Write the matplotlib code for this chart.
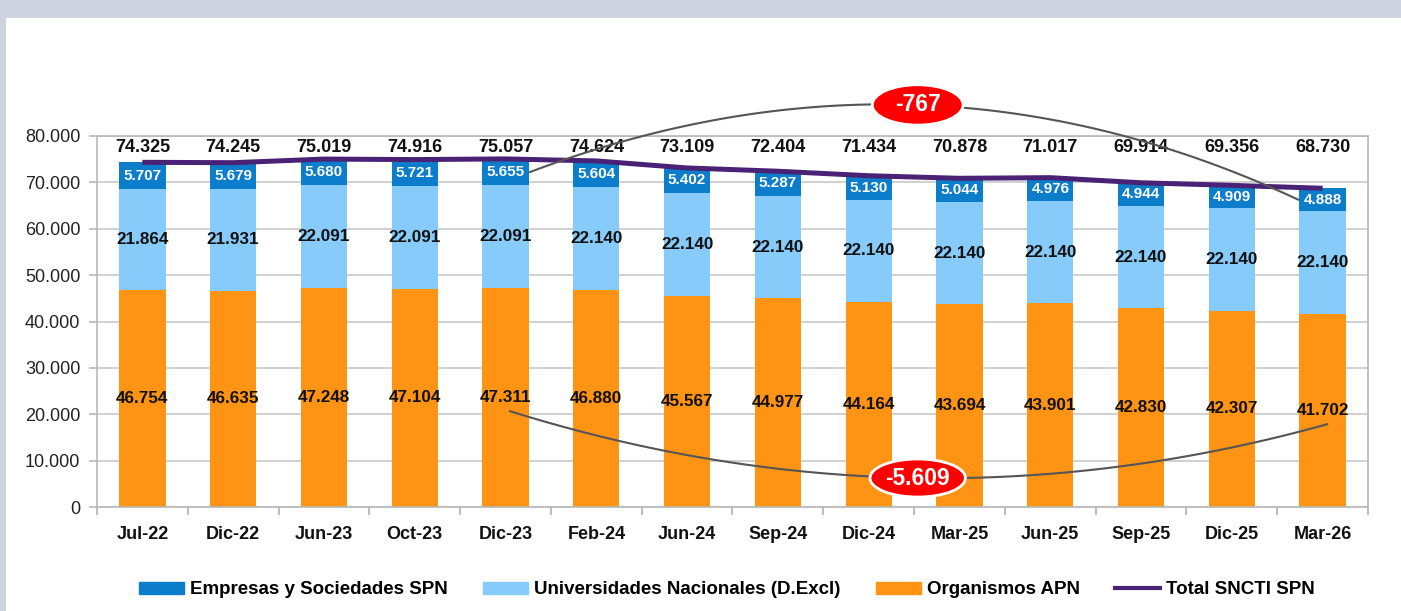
import numpy as np
import matplotlib.pyplot as plt
from matplotlib.patches import Ellipse, Rectangle, Patch
from matplotlib.lines import Line2D

# Data
periods = ['Jul-22', 'Dic-22', 'Jun-23', 'Oct-23', 'Dic-23', 'Feb-24', 'Jun-24',
           'Sep-24', 'Dic-24', 'Mar-25', 'Jun-25', 'Sep-25', 'Dic-25', 'Mar-26']
organismos = [46754, 46635, 47248, 47104, 47311, 46880, 45567,
              44977, 44164, 43694, 43901, 42830, 42307, 41702]
universidades = [21864, 21931, 22091, 22091, 22091, 22140, 22140,
                 22140, 22140, 22140, 22140, 22140, 22140, 22140]
empresas = [5707, 5679, 5680, 5721, 5655, 5604, 5402,
            5287, 5130, 5044, 4976, 4944, 4909, 4888]
total = [74325, 74245, 75019, 74916, 75057, 74624, 73109,
         72404, 71434, 70878, 71017, 69914, 69356, 68730]
diff_total = -767
diff_org = -5609

C_EMP = '#0C7DCA'
C_UNI = '#87CBFA'
C_ORG = '#FF9414'
C_TOT = '#4A2275'

BOLD = ['Liberation Sans', 'DejaVu Sans']
NARROW = ['Liberation Sans Narrow', 'Liberation Sans', 'DejaVu Sans']


def fmt(v):
    return f"{v:,}".replace(",", ".")


fig = plt.figure(figsize=(14.01, 6.11), dpi=100)
fig.patch.set_facecolor('#CED3DF')
fig.add_artist(Rectangle((6 / 1401, 0), 1, 1 - 18 / 611, transform=fig.transFigure,
                         facecolor='white', edgecolor='none', zorder=0))

ax = fig.add_axes([97 / 1401, 1 - 507 / 611, (1368 - 97) / 1401, (507 - 136) / 611])
ax.set_facecolor('white')

x = np.arange(len(periods))
org = np.array(organismos)
uni = np.array(universidades)
emp = np.array(empresas)

w = 0.51
ax.bar(x, org, width=w, color=C_ORG, zorder=2)
ax.bar(x, uni, width=w, bottom=org, color=C_UNI, zorder=2)
ax.bar(x, emp, width=w, bottom=org + uni, color=C_EMP, zorder=2)
ax.plot(x, total, color=C_TOT, lw=3.6, solid_capstyle='butt', zorder=4)

for i in range(len(x)):
    ax.text(x[i], org[i] / 2, fmt(organismos[i]), ha='center', va='center',
            fontsize=12.3, fontweight='bold', family=BOLD, color='#111111', zorder=5)
    ax.text(x[i], org[i] + uni[i] / 2, fmt(universidades[i]), ha='center', va='center',
            fontsize=12.3, fontweight='bold', family=BOLD, color='#111111', zorder=5)
    ax.text(x[i], org[i] + uni[i] + emp[i] / 2, fmt(empresas[i]), ha='center', va='center',
            fontsize=11, fontweight='bold', family=BOLD, color='white', zorder=5)
    ax.text(x[i], 77600, fmt(total[i]), ha='center', va='center',
            fontsize=13, fontweight='bold', family=BOLD, color='#111111', zorder=5)

# axes formatting
ax.set_xlim(-0.5, len(x) - 0.5)
ax.set_ylim(0, 80000)
ax.set_yticks(np.arange(0, 80001, 10000))
ax.set_yticklabels([fmt(v) for v in range(0, 80001, 10000)], family=BOLD,
                   fontsize=13, color='#222222')
ax.set_xticks(x)
ax.set_xticklabels(periods, family=BOLD, fontsize=13, fontweight='bold', color='#111111')
ax.set_xticks(np.arange(-0.5, len(x), 1), minor=True)
ax.tick_params(axis='x', which='major', length=0, pad=14)
ax.tick_params(axis='x', which='minor', length=6, color='#B0B0B0', width=1.2)
ax.tick_params(axis='y', length=6, color='#B8B8B8', width=1.2, pad=6)
ax.grid(axis='y', color='#C8C8C8', lw=1.2, zorder=0)
ax.set_axisbelow(True)
for s in ax.spines.values():
    s.set_color('#B8B8B8')
    s.set_linewidth(1.2)


# callout curves with red ellipses
def callout(p0, mid, p2, label, ew, eh):
    p0, mid, p2 = np.array(p0, float), np.array(mid, float), np.array(p2, float)
    ctrl = 2 * mid - (p0 + p2) / 2
    t = np.linspace(0, 1, 100)[:, None]
    pts = (1 - t) ** 2 * p0 + 2 * t * (1 - t) * ctrl + t ** 2 * p2
    ax.plot(pts[:, 0], pts[:, 1], color='#555555', lw=1.5, zorder=6, clip_on=False)
    ax.add_patch(Ellipse(mid, ew, eh, facecolor='#FF0000', edgecolor='white',
                         lw=2, zorder=7, clip_on=False))
    ax.text(mid[0], mid[1], label, ha='center', va='center', color='white',
            fontsize=16.5, fontweight='bold', family=BOLD, zorder=8, clip_on=False)


callout((4.27, total[4] - empresas[4] / 2), (8.54, 86700),
        (12.73, total[13] - empresas[13] / 2), fmt(diff_total), 1.0, 8700)
callout((4.05, organismos[4] / 2 - 3000), (8.54, 6250),
        (13.05, organismos[13] / 2 - 3000), fmt(diff_org), 1.05, 8200)

# legend
handles = [Patch(color=C_EMP), Patch(color=C_UNI), Patch(color=C_ORG),
           Line2D([0], [0], color=C_TOT, lw=3)]
labels = ['Empresas y Sociedades SPN', 'Universidades Nacionales (D.Excl)',
          'Organismos APN', 'Total SNCTI SPN']
fig.legend(handles, labels, loc='center', bbox_to_anchor=(0.519, 1 - 590 / 611),
           ncol=4, frameon=False, handlelength=2.4, handleheight=0.6,
           handletextpad=0.3, columnspacing=1.9,
           prop={'family': NARROW, 'weight': 'bold', 'size': 13.5})

fig.savefig('out.png', dpi=100, facecolor=fig.get_facecolor())
